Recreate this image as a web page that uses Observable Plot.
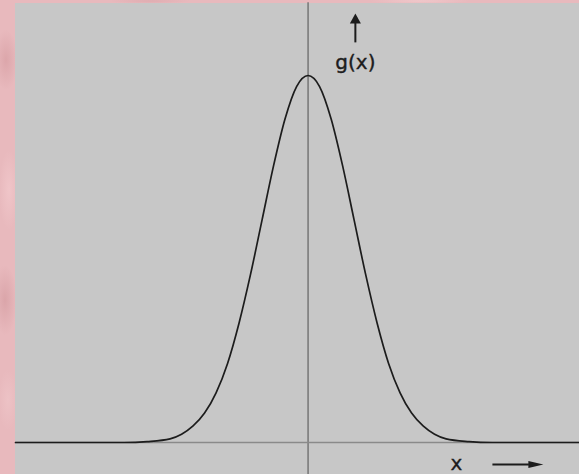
<!DOCTYPE html>
<html>
<head>
<meta charset="utf-8">
<script src="https://cdn.jsdelivr.net/npm/d3@7"></script>
<script src="https://cdn.jsdelivr.net/npm/@observablehq/plot@0.6"></script>
<style>
  html, body { margin: 0; padding: 0; width: 579px; height: 474px; overflow: hidden; }
  body {
    position: relative;
    background-color: #e8b9bd;
    background-image:
      radial-gradient(ellipse 12px 30px at 6px 60px, rgba(210,150,155,0.55), transparent),
      radial-gradient(ellipse 10px 40px at 9px 190px, rgba(245,205,208,0.6), transparent),
      radial-gradient(ellipse 12px 35px at 5px 300px, rgba(205,145,150,0.5), transparent),
      radial-gradient(ellipse 10px 30px at 8px 400px, rgba(240,200,203,0.6), transparent),
      radial-gradient(ellipse 40px 3px at 150px 1px, rgba(215,160,165,0.5), transparent),
      radial-gradient(ellipse 50px 3px at 420px 1px, rgba(245,210,212,0.6), transparent);
  }
  #chart { position: absolute; left: 15px; top: 3px; }
</style>
</head>
<body>
<div id="chart"></div>
<script>
// Bell-shaped density g(x), sampled in units of the spread
const xs = [-6.36, -5, -4, -3.5, -3, -2.75, -2.5, -2.25, -2, -1.75, -1.5, -1.25, -1, -0.75, -0.5, -0.25,
            0, 0.25, 0.5, 0.75, 1, 1.25, 1.5, 1.75, 2, 2.25, 2.5, 2.75, 3, 3.5, 4, 5, 5.9];
const gs = [0, 0, 0, 0.001, 0.004, 0.009, 0.018, 0.032, 0.054, 0.086, 0.130, 0.183, 0.242, 0.301, 0.352, 0.387,
            0.399, 0.387, 0.352, 0.301, 0.242, 0.183, 0.130, 0.086, 0.054, 0.032, 0.018, 0.009, 0.004, 0.001, 0, 0, 0];

// Axis labels and their direction arrows
const labelText = ["g(x)", "x"];
const labelX = [1.028, 3.223];
const labelY = [0.413, -0.0225];
const arrowX1 = [1.028, 4.007];
const arrowY1 = [0.435, -0.0239];
const arrowX2 = [1.028, 4.80];
const arrowY2 = [0.458, -0.0239];
const headX = [1.028, 4.952];
const headY = [0.461, -0.0239];
const headRotate = [0, 90];

const curve = xs.map((x, i) => ({x, g: gs[i]}));
const labels = labelText.map((t, i) => ({t, x: labelX[i], y: labelY[i]}));
const shafts = arrowX1.map((x1, i) => ({x1, y1: arrowY1[i], x2: arrowX2[i], y2: arrowY2[i]}));
const heads = headX.map((x, i) => ({x, y: headY[i], r: headRotate[i], kind: i}));

// Filled arrowheads pointing up (rotated for the horizontal one)
const upHead = { draw(ctx) { ctx.moveTo(0, -5); ctx.lineTo(5.5, 5); ctx.lineTo(-5.5, 5); ctx.closePath(); } };
const longHead = { draw(ctx) { ctx.moveTo(0, -7.5); ctx.lineTo(3.6, 7.5); ctx.lineTo(-3.6, 7.5); ctx.closePath(); } };

const ink = "#1c1c1c";

const chart = Plot.plot({
  width: 564,
  height: 471,
  marginLeft: 0,
  marginRight: 0,
  marginTop: 72,
  marginBottom: 32,
  style: { background: "#c7c7c7", overflow: "visible" },
  x: { domain: [-6.36, 5.9], axis: null },
  y: { domain: [0, 0.399], axis: null },
  marks: [
    Plot.ruleX([{x: 0, y1: -0.035, y2: 0.478}], {x: "x", y1: "y1", y2: "y2", stroke: "#7c7c7c", strokeWidth: 1.6}),
    Plot.ruleY([0], {stroke: "#8a8a8a", strokeWidth: 1.6}),
    Plot.line(curve, {x: "x", y: "g", curve: "monotone-x", stroke: ink, strokeWidth: 1.7}),
    Plot.link(shafts, {x1: "x1", y1: "y1", x2: "x2", y2: "y2", stroke: ink, strokeWidth: 2}),
    Plot.dot(heads.filter(d => d.kind === 0), {x: "x", y: "y", rotate: "r", symbol: upHead, fill: ink, stroke: "none"}),
    Plot.dot(heads.filter(d => d.kind === 1), {x: "x", y: "y", rotate: "r", symbol: longHead, fill: ink, stroke: "none"}),
    Plot.text(labels, {x: "x", y: "y", text: "t", fill: ink, fontSize: 20,
      fontFamily: "DejaVu Sans", textAnchor: "middle", stroke: ink, strokeWidth: 0.4,
      style: "letter-spacing: 2.5px"})
  ]
});
document.getElementById("chart").appendChild(chart);
</script>
</body>
</html>
